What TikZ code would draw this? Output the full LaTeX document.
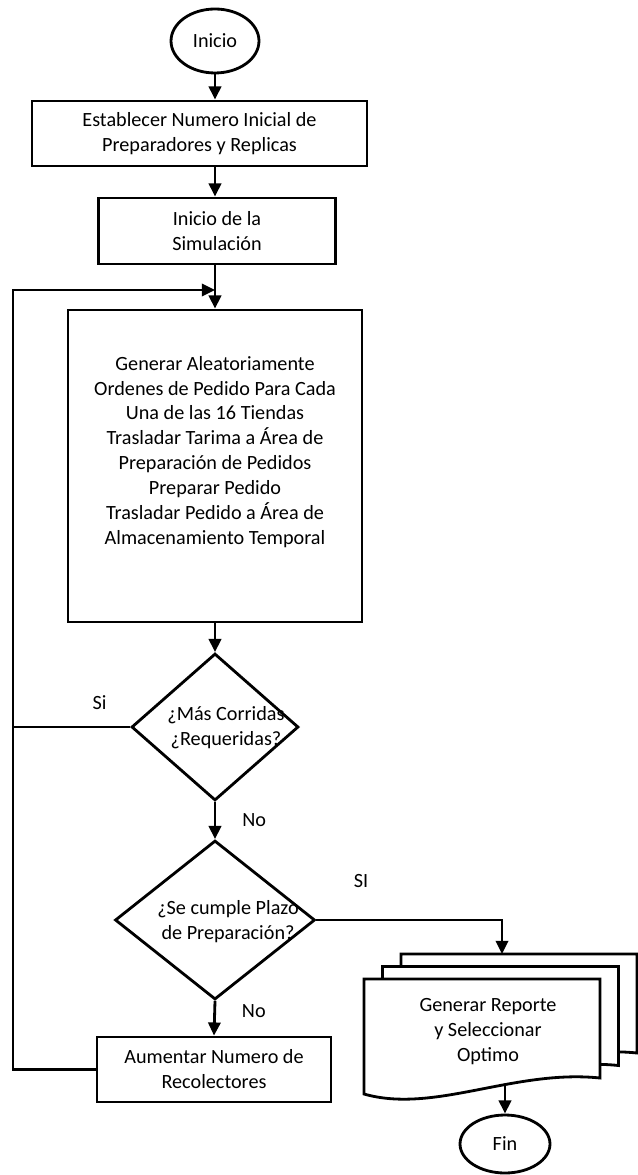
\documentclass[tikz,border=0pt]{standalone}
\usepackage{fontspec}
\setmainfont{Carlito}
\usetikzlibrary{positioning,shapes.geometric,arrows.meta}

\begin{document}
\begin{tikzpicture}[x=0.02cm,y=-0.02cm,>={Triangle[length=7.5pt,width=7pt]},line width=1.6pt,
  every node/.style={font=\fontsize{11.5}{14.2}\selectfont},
  proc/.style={rectangle,draw,align=center,inner sep=2pt},
  term/.style={ellipse,draw,inner sep=0pt},
  decision/.style={diamond,draw,inner sep=0pt}]
\useasboundingbox (0,0) rectangle (637,1175);
% nodes
  \node[term,minimum width=1.76cm,minimum height=1.28cm] (ini) at (215,41) {Inicio};
  \node[proc,minimum width=6.7cm,minimum height=1.3cm] (est) at (199.5,133.5) {Establecer Numero Inicial de\\Preparadores y Replicas};
  \node[proc,minimum width=4.74cm,minimum height=1.32cm] (sim) at (217,231) {Inicio de la\\Simulación};
  \node[proc,minimum width=5.88cm,minimum height=6.24cm] (gen) at (215,466) {};
  \node[align=center] (gentxt) at (215,452) {Generar Aleatoriamente\\Ordenes de Pedido Para Cada\\Una de las 16 Tiendas\\Trasladar Tarima a Área de\\Preparación de Pedidos\\Preparar Pedido\\Trasladar Pedido a Área de\\Almacenamiento Temporal};
  \node[decision,minimum width=3.34cm,minimum height=2.94cm] (mas) at (215,727) {};
  \node[align=center] (mastxt) at (226,728) {¿Más Corridas\\¿Requeridas?};
  \node[decision,minimum width=4cm,minimum height=3.18cm] (plazo) at (215,920) {};
  \node[align=center] (plazotxt) at (228,922) {¿Se cumple Plazo\\de Preparación?};
  \node[proc,minimum width=4.68cm,minimum height=1.3cm] (aum) at (214,1069.5) {Aumentar Numero de\\Recolectores};
  % stacked documents
  \foreach \dx/\dy in {37/25,18.5/12.5,0/0}
    \draw[fill=white,shift={(364+\dx,979-\dy)}] (0,0) -- (236,0) -- (236,99)
      .. controls (150,90) and (70,135) .. (0,115) -- cycle;
  \node[align=center] (rep) at (488,1032) {Generar Reporte\\y Seleccionar\\Optimo};
  \coordinate (reptop) at (502,954);
  \coordinate (repbot) at (505,1086);
  \node[term,minimum width=1.8cm,minimum height=1.16cm] (fin) at (505,1144) {Fin};
  \coordinate (lp) at (13,290);
  \coordinate (lpin) at (215,290);
  %edges
  \draw[->] (ini.south) -- (ini.south |- est.north);
  \draw[->] (ini.south |- est.south) -- (ini.south |- sim.north);
  \draw[->] (ini.south |- sim.south) -- (ini.south |- gen.north);
  \draw[->] (aum.west) -| (lp) -- (lpin);
  \draw (mas.west) -- (mas.west -| lp) node[pos=0.26,above=0.2cm] {Si};
  \draw[->] (gen.south) -- (mas.north);
  \draw[->] (mas.south) -- (plazo.north) node[midway,right=0.4cm] {No};
  \draw[->] (plazo.south) -- (aum.north) node[pos=0.3,right=0.4cm] {No};
  \draw[->] (plazo.east) -| (reptop) node[pos=0.12,above=0.5cm] {SI};
  \draw[->] (repbot) -- (fin.north);
\end{tikzpicture}
\end{document}
